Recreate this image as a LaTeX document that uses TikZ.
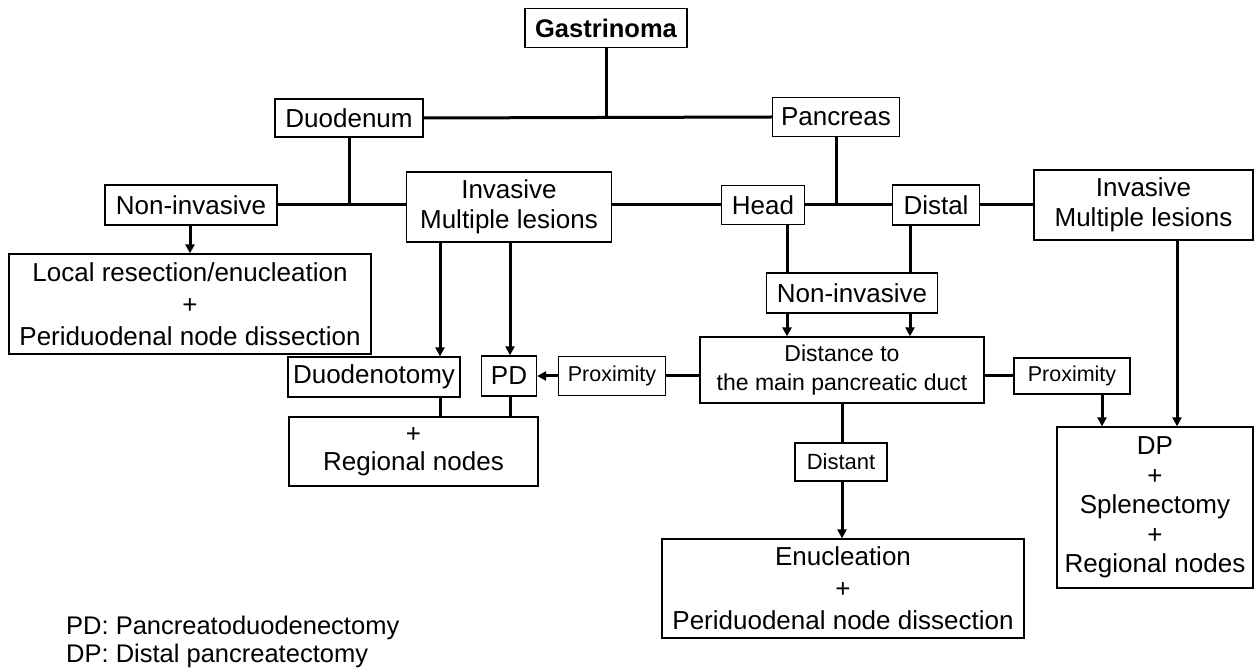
\documentclass[tikz,border=0pt]{standalone}
\usepackage{fontspec}
\setmainfont{Liberation Sans}
\usetikzlibrary{arrows.meta}
\tikzset{
  box/.style={draw, line width=1.3pt, inner sep=0pt, align=center, font=\fontsize{26}{30}\selectfont},
  sbox/.style={box, font=\fontsize{21.5}{26}\selectfont},
  conn/.style={line width=3pt},
  arr/.style={line width=3pt, -{Triangle[length=9pt,width=9pt]}},
  legend/.style={anchor=west, inner sep=0pt, font=\fontsize{25.5}{30}\selectfont}
}
\begin{document}
\begin{tikzpicture}[x=1pt,y=-1pt]
\useasboundingbox (0,0) rectangle (1254,668);
% nodes
\node[box, font=\fontsize{25.5}{30}\selectfont\bfseries, minimum width=162pt, minimum height=39pt] (G) at (606,28) {Gastrinoma};
\node[box, minimum width=148pt, minimum height=38pt] (D) at (349,118) {Duodenum};
\node[box, minimum width=127pt, minimum height=39pt] (P) at (836,117) {Pancreas};
\node[box, minimum width=172pt, minimum height=40pt] (NI1) at (191,205) {Non-invasive};
\node[box, minimum width=205pt, minimum height=70pt] (IM1) at (509,207) {Invasive\\Multiple lesions};
\node[box, minimum width=83pt, minimum height=39pt] (H) at (763,205) {Head};
\node[box, minimum width=87pt, minimum height=40pt] (DI) at (936,205) {Distal};
\node[box, minimum width=219pt, minimum height=70pt] (IM2) at (1143.5,205) {Invasive\\Multiple lesions};
\node[box, minimum width=362pt, minimum height=100pt, font=\fontsize{26}{32}\selectfont] (LR) at (190,304) {Local resection/enucleation\\+\\Periduodenal node dissection};
\node[box, minimum width=172pt, minimum height=40pt] (DU) at (374,377) {Duodenotomy};
\node[box, minimum width=55pt, minimum height=40pt] (PD) at (509,376) {PD};
\node[sbox, minimum width=107pt, minimum height=39pt] (PX1) at (612,376) {Proximity};
\node[sbox, font=\fontsize{23}{29}\selectfont, minimum width=284pt, minimum height=66pt] (DS) at (842,370) {Distance to\\the main pancreatic duct};
\node[box, minimum width=171pt, minimum height=40pt] (NI2) at (852,293) {Non-invasive};
\node[sbox, minimum width=116pt, minimum height=36pt] (PX2) at (1072,376) {Proximity};
\node[sbox, font=\fontsize{22}{26}\selectfont, minimum width=92pt, minimum height=38pt] (DT) at (841,462) {Distant};
\node[box, minimum width=249pt, minimum height=69pt, font=\fontsize{26}{28}\selectfont] (RG) at (413.5,451.5) {+\\Regional nodes};
\node[box, minimum width=196pt, minimum height=161pt, font=\fontsize{26}{29.5}\selectfont] (DP) at (1155,507.5) {DP\\+\\Splenectomy\\+\\Regional nodes};
\node[box, minimum width=362pt, minimum height=99pt, font=\fontsize{26}{32}\selectfont] (EN) at (843,588.5) {Enucleation\\+\\Periduodenal node dissection};
\node[legend] (L1) at (66,628) {PD: Pancreatoduodenectomy};
\node[legend] (L2) at (66,656) {DP: Distal pancreatectomy};
% helper x positions
\coordinate (xg) at (605,0);
\coordinate (xh) at (349,0);
\coordinate (xi) at (836,0);
\coordinate (xj) at (190,0);
\coordinate (xa) at (440,0);
\coordinate (xb) at (510,0);
\coordinate (xc) at (787,0);
\coordinate (xd) at (910,0);
\coordinate (xe) at (1102,0);
\coordinate (xf) at (1177,0);
\coordinate (xk) at (842,0);
% connectors
\draw[conn] (D.east) -- (P.west);
\draw[conn] (G.south) -- (G.south |- D.east);
\draw[conn] (NI1.east) -- (NI1.east -| IM1.west);
\draw[conn] (D.south) -- (D.south |- NI1.east);
\draw[conn] (H.west -| IM1.east) -- (H.west);
\draw[conn] (H.east) -- (DI.west);
\draw[conn] (P.south) -- (P.south |- H.east);
\draw[conn] (DI.east) -- (DI.east -| IM2.west);
\draw[arr] (xj |- NI1.south) -- (xj |- LR.north);
\draw[arr] (xa |- IM1.south) -- (xa |- DU.north);
\draw[arr] (xb |- IM1.south) -- (xb |- PD.north);
\draw[conn] (xa |- DU.south) -- (xa |- RG.north);
\draw[conn] (xb |- PD.south) -- (xb |- RG.north);
\draw[conn] (xc |- H.south) -- (xc |- NI2.north);
\draw[conn] (xd |- DI.south) -- (xd |- NI2.north);
\draw[arr] (xc |- NI2.south) -- (xc |- DS.north);
\draw[arr] (xd |- NI2.south) -- (xd |- DS.north);
\draw[conn] (PX1.east -| DS.west) -- (PX1.east);
\draw[arr] (PX1.west) -- (PX1.west -| PD.east);
\draw[conn] (PX2.west -| DS.east) -- (PX2.west);
\draw[arr] (xe |- PX2.south) -- (xe |- DP.north);
\draw[arr] (xf |- IM2.south) -- (xf |- DP.north);
\draw[conn] (xk |- DS.south) -- (xk |- DT.north);
\draw[arr] (xk |- DT.south) -- (xk |- EN.north);
\end{tikzpicture}
\end{document}
